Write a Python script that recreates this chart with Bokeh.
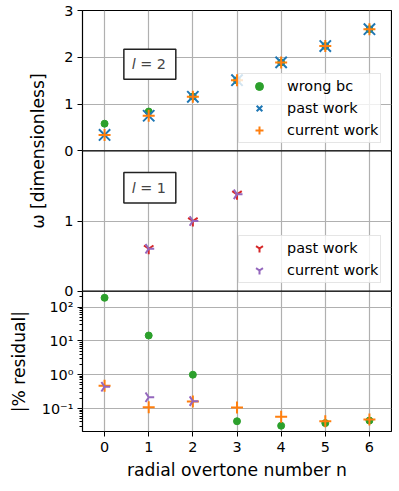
import math
from bokeh.plotting import figure
from bokeh.models import (Range1d, LogScale, FixedTicker, Span, Legend, LegendItem,
                          Label, BoxAnnotation, Title)
from bokeh.embed import file_html
from bokeh.resources import INLINE

# ---------------- data ----------------
n = [0, 1, 2, 3, 4, 5, 6]
l2_wrong_bc = [0.58, 0.84, 1.16, 1.51, 1.89, 2.24, 2.60]
l2_past = [0.34, 0.75, 1.155, 1.51, 1.89, 2.24, 2.60]
l2_current = [0.34, 0.75, 1.155, 1.51, 1.89, 2.24, 2.60]

n_l1 = [1, 2, 3]
l1_past = [0.605, 1.00, 1.38]
l1_current = [0.605, 1.00, 1.38]

res_wrong_bc = [188, 14.4, 1.0, 0.042, 0.031, 0.037, 0.044]
res_current_l2 = [0.47, 0.109, 0.161, 0.107, 0.057, 0.042, 0.047]
n_res_l1 = [0, 1, 2]
res_current_l1 = [0.44, 0.215, 0.165]

top_ticks = [0, 1, 2, 3]
mid_ticks = [0, 1]
res_ticks = [0.1, 1, 10, 100]
res_tick_labels = ["10\u207b\u00b9", "10\u2070", "10\u00b9", "10\u00b2"]
x_ticks = [0, 1, 2, 3, 4, 5, 6]

GREEN, BLUE, ORANGE, RED, PURPLE = "#2ca02c", "#1f77b4", "#ff7f0e", "#d62728", "#9467bd"
FONT = "DejaVu Sans"
FS = "14.4px"
FS_LAB = "17.2px"
FRAME_H = 421
PANEL_H = FRAME_H / 3

# panel ranges (each panel takes one third of the frame)
TOP_LO, TOP_HI = 0.0, 3.0
MID_LO, MID_HI = 0.0, 2.0
RES_A, RES_B = -1.68, 2.47          # log10 limits of residual panel
RES_D = RES_B - RES_A

top_range = Range1d(TOP_LO - 2 * (TOP_HI - TOP_LO), TOP_HI)
mid_range = Range1d(MID_LO - (MID_HI - MID_LO), MID_HI + (MID_HI - MID_LO))
res_range = Range1d(10 ** RES_A, 10 ** (RES_A + 3 * RES_D))

p = figure(frame_width=309, frame_height=FRAME_H, min_border_left=82, min_border_right=1,
           min_border_top=10, min_border_bottom=56,
           x_range=Range1d(-0.5, 6.5), y_range=top_range,
           output_backend="svg", toolbar_location=None)
p.extra_y_ranges = {"mid": mid_range, "res": res_range}
p.extra_y_scales = {"res": LogScale()}


def mid_to_top(v):
    frac = (v - mid_range.start) / (mid_range.end - mid_range.start)
    return top_range.start + frac * (top_range.end - top_range.start)


def res_to_top(v):
    frac = (math.log10(v) - RES_A) / (3 * RES_D)
    return top_range.start + frac * (top_range.end - top_range.start)


ticks, overrides = [], {}
for v in top_ticks:
    ticks.append(float(v)); overrides[float(v)] = str(v)
for v in mid_ticks:
    t = mid_to_top(v)
    if all(abs(t - q) > 1e-9 for q in ticks):
        ticks.append(t); overrides[t] = str(v)
for v, lab in zip(res_ticks, res_tick_labels):
    t = res_to_top(v)
    ticks.append(t); overrides[t] = lab
minor = []
for k in range(-2, 3):
    for m in range(2, 10):
        v = m * 10 ** k
        if RES_A <= math.log10(v) <= RES_A + RES_D:
            minor.append(res_to_top(v))

yax = p.yaxis[0]
yax.ticker = FixedTicker(ticks=ticks, minor_ticks=minor)
yax.major_label_overrides = overrides
yax.major_label_text_font = FONT
yax.major_label_text_font_size = FS
yax.major_label_text_color = "black"
yax.major_tick_out = 5
yax.major_tick_in = 0
yax.minor_tick_out = 3
yax.minor_tick_in = 0
yax.major_label_standoff = 4
yax.axis_line_color = None
yax.major_tick_line_color = "black"
yax.minor_tick_line_color = "black"

xax = p.xaxis[0]
xax.ticker = FixedTicker(ticks=x_ticks)
xax.major_label_text_font = FONT
xax.major_label_text_font_size = FS
xax.major_label_text_color = "black"
xax.major_tick_out = 5
xax.major_tick_in = 0
xax.minor_tick_line_color = None
xax.major_label_standoff = 5
xax.axis_line_color = None
xax.axis_label = "radial overtone number n"
xax.axis_label_text_font = FONT
xax.axis_label_text_font_size = FS_LAB
xax.axis_label_text_font_style = "normal"
xax.axis_label_text_color = "black"
xax.axis_label_standoff = 5

p.xgrid.grid_line_color = "#b0b0b0"
p.ygrid.grid_line_color = "#b0b0b0"
p.xgrid.grid_line_width = 1.2
p.ygrid.grid_line_width = 1.2
p.outline_line_color = "black"
p.outline_line_width = 1.2
p.background_fill_color = "white"
p.border_fill_color = "white"

# y-axis titles (left side, stacked outward), positioned along the frame by offset
p.add_layout(Title(text="\u03c9 [dimensionless]", align="left", offset=2 * PANEL_H - 78,
                   standoff=-18, text_font=FONT, text_font_size=FS_LAB,
                   text_font_style="normal", text_color="black"), "left")
p.add_layout(Title(text="|% residual|", align="left", offset=PANEL_H / 2 - 51,
                   standoff=12, text_font=FONT, text_font_size=FS_LAB,
                   text_font_style="normal", text_color="black"), "left")

# panel separators
p.add_layout(Span(location=TOP_LO, dimension="width", line_color="black", line_width=1.2))
p.add_layout(Span(location=MID_LO, dimension="width", line_color="black", line_width=1.2,
                  y_range_name="mid"))

# ---- l = 2 panel ----
r_wrong = p.scatter(n, l2_wrong_bc, marker="circle", size=7, color=GREEN)
r_past2 = p.scatter(n, l2_past, marker="x", size=16, line_color=BLUE, line_width=2)
r_cur2 = p.scatter(n, l2_current, marker="cross", size=12, line_color=ORANGE, line_width=2)

# ---- l = 1 panel ----
r_past1 = p.scatter(n_l1, l1_past, marker="y", size=11, line_color=RED, line_width=2,
                    y_range_name="mid")
r_cur1 = p.scatter(n_l1, l1_current, marker="y", size=11, angle=math.pi / 2,
                   line_color=PURPLE, line_width=2, y_range_name="mid")

# ---- residual panel ----
p.scatter(n, res_wrong_bc, marker="circle", size=7, color=GREEN, y_range_name="res")
p.scatter(n, res_current_l2, marker="cross", size=12, line_color=ORANGE, line_width=2,
          y_range_name="res")
p.scatter(n_res_l1, res_current_l1, marker="y", size=11, angle=math.pi / 2,
          line_color=PURPLE, line_width=2, y_range_name="res")


def make_legend(items, loc):
    lg = Legend(items=items, location=loc, padding=2, margin=0, spacing=2,
                label_height=20, glyph_height=20, glyph_width=36, label_standoff=10,
                label_text_font=FONT, label_text_font_size=FS, label_text_color="black",
                background_fill_color="white", background_fill_alpha=0.8,
                border_line_color="#cccccc", border_line_width=1.2)
    return lg


p.add_layout(make_legend([LegendItem(label="wrong bc", renderers=[r_wrong]),
                          LegendItem(label="past work", renderers=[r_past2]),
                          LegendItem(label="current work", renderers=[r_cur2])],
                         (156, 288)), "center")
p.add_layout(make_legend([LegendItem(label="past work", renderers=[r_past1]),
                          LegendItem(label="current work", renderers=[r_cur1])],
                         (156, 148)), "center")

# text boxes
p.add_layout(BoxAnnotation(left=0.437, right=1.614, bottom=1.53, top=2.17,
                           fill_color="white", fill_alpha=1.0,
                           line_color="#222222", line_alpha=1.0, line_width=1.5))
p.add_layout(BoxAnnotation(left=0.437, right=1.614, bottom=1.256, top=1.69,
                           fill_color="white", fill_alpha=1.0,
                           line_color="#222222", line_alpha=1.0, line_width=1.5,
                           y_range_name="mid"))
for yv, txt, rn in [(1.85, "= 2", "default"), (1.47, "= 1", "mid")]:
    p.add_layout(Label(x=1.0, y=yv, x_offset=-17, text="l", text_font=FONT,
                       text_font_size=FS, text_font_style="italic",
                       text_align="left", text_baseline="middle", y_range_name=rn))
    p.add_layout(Label(x=1.0, y=yv, x_offset=-8.5, text=txt, text_font=FONT,
                       text_font_size=FS, text_align="left", text_baseline="middle",
                       y_range_name=rn))

open("out.html", "w").write(file_html(p, INLINE))
